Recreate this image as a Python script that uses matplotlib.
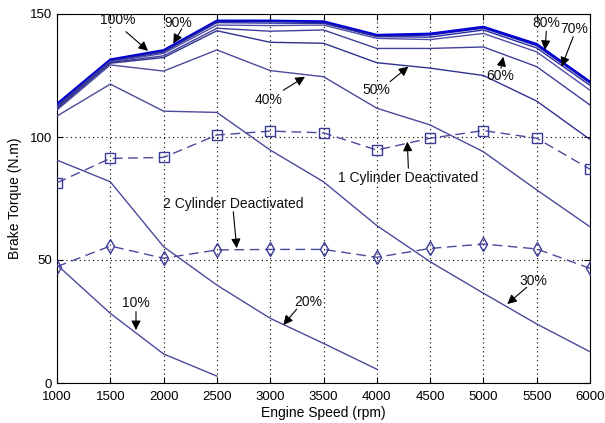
import matplotlib
matplotlib.use("Agg")
import matplotlib.pyplot as plt

plt.rcParams['font.family'] = ['Liberation Sans', 'DejaVu Sans']

rpm = [1000, 1500, 2000, 2500, 3000, 3500, 4000, 4500, 5000, 5500, 6000]

t100 = [113.5, 131.5, 135.3, 147.3, 147.3, 147.0, 141.5, 142.0, 144.8, 137.8, 122.5]
t90 = [113.0, 131.0, 135.0, 147.0, 147.0, 146.6, 141.0, 141.5, 144.3, 137.2, 122.0]
t80 = [112.5, 130.8, 134.5, 146.5, 146.3, 146.2, 140.8, 140.6, 143.5, 136.2, 121.0]
t70 = [112.0, 130.5, 134.0, 145.5, 145.3, 145.5, 140.1, 139.6, 142.1, 134.6, 119.0]
t60 = [112.0, 130.3, 133.0, 144.2, 143.0, 143.5, 136.0, 136.0, 136.6, 128.6, 113.0]
t50 = [111.5, 130.0, 132.3, 143.2, 138.5, 138.1, 130.2, 128.0, 125.0, 114.6, 99.0]
t40 = [111.0, 129.3, 126.8, 135.4, 127.0, 124.5, 111.7, 104.9, 94.0, 78.5, 63.5]
t30 = [108.5, 121.5, 110.5, 110.0, 94.7, 81.8, 64.0, 49.3, 36.5, 24.0, 12.7]
rpm20 = [1000, 1500, 2000, 2500, 3000, 3500, 4000]
t20 = [90.6, 81.8, 55.4, 39.8, 26.3, 16.1, 5.6]
rpm10 = [1000, 1500, 2000, 2500]
t10 = [48.0, 28.3, 11.8, 2.8]

cyl1 = [81.4, 91.3, 91.7, 100.8, 102.4, 101.7, 94.7, 99.5, 102.6, 99.5, 86.9]
cyl2 = [47.3, 55.7, 50.7, 54.1, 54.3, 54.3, 51.1, 54.7, 56.5, 54.5, 46.6]

xticks = [1000, 1500, 2000, 2500, 3000, 3500, 4000, 4500, 5000, 5500, 6000]
yticks = [0, 50, 100, 150]

# annotations: (text, text_x, text_y, tail_x, tail_y, tip_x, tip_y)
notes = [
    ("100%", 1572, 147.5, 1647, 142.8, 1854, 135.0),
    ("90%", 2135, 146.5, 2170, 144.0, 2091, 138.0),
    ("40%", 2982, 115.0, 3123, 119.0, 3326, 124.5),
    ("50%", 3992, 119.0, 4124, 122.5, 4296, 128.6),
    ("60%", 5156, 124.8, 5165, 128.0, 5187, 132.6),
    ("80%", 5594, 146.2, 5590, 143.0, 5578, 135.4),
    ("70%", 5850, 143.8, 5843, 140.8, 5734, 128.6),
    ("1 Cylinder Deactivated", 4296, 83.2, 4296, 87.3, 4286, 98.1),
    ("2 Cylinder Deactivated", 2654, 72.8, 2654, 69.6, 2686, 54.8),
    ("10%", 1741, 32.4, 1741, 29.0, 1741, 21.5),
    ("20%", 3358, 33.0, 3248, 30.0, 3123, 23.6),
    ("30%", 5468, 41.6, 5406, 38.9, 5224, 32.1),
]

fig = plt.figure(figsize=(6.05, 4.23), dpi=100)
ax = fig.add_axes([57/605, 40/423, 533/605, 369/423])

series = [
    (t100, '#0000dd', 1.6),
    (t90, '#1010b8', 1.2),
    (t80, '#2a2aa0', 1.0),
    (t70, '#5050a8', 1.0),
    (t60, '#40409a', 1.0),
    (t50, '#303090', 1.0),
    (t40, '#4a4a9c', 1.0),
    (t30, '#4a4a9c', 1.0),
]
for vals, col, lw in series:
    ax.plot(rpm, vals, color=col, lw=lw, zorder=3)
ax.plot(rpm20, t20, color='#4a4a9c', lw=1.0, zorder=3)
ax.plot(rpm10, t10, color='#4a4a9c', lw=1.0, zorder=3)

ax.plot(rpm, cyl1, color='#4a4a9c', lw=1.0, ls=(0, (7, 4)), marker='s',
        ms=6.5, mfc='none', mec='#3a3a99', mew=1.0, zorder=3)
ax.plot(rpm, cyl2, color='#4a4a9c', lw=1.0, ls=(0, (7, 4)), marker='d',
        ms=7, mfc='none', mec='#3a3a99', mew=1.0, zorder=3)

for txt, tx, ty, ax0, ay0, ax1, ay1 in notes:
    ax.text(tx, ty, txt, ha='center', va='center', fontsize=10, color='#111111', zorder=5)
    ax.annotate('', xy=(ax1, ay1), xytext=(ax0, ay0),
                arrowprops=dict(arrowstyle='-|>', color='black', lw=0.8,
                                mutation_scale=14, shrinkA=0, shrinkB=0),
                zorder=5)

ax.set_xlim(1000, 6000)
ax.set_ylim(0, 150)
ax.set_xticks(xticks)
ax.set_yticks(yticks)
ax.tick_params(direction='in', labelsize=9.5, length=4, top=True, right=True)
ax.tick_params(axis='x', pad=6)
ax.grid(True, ls=(0, (1, 3)), color='black', lw=0.8)
ax.set_xlabel('Engine Speed (rpm)', fontsize=10, labelpad=2)
ax.set_ylabel('Brake Torque (N.m)', fontsize=10, labelpad=6)
for s in ax.spines.values():
    s.set_linewidth(0.8)

fig.savefig('out.png', dpi=100)
